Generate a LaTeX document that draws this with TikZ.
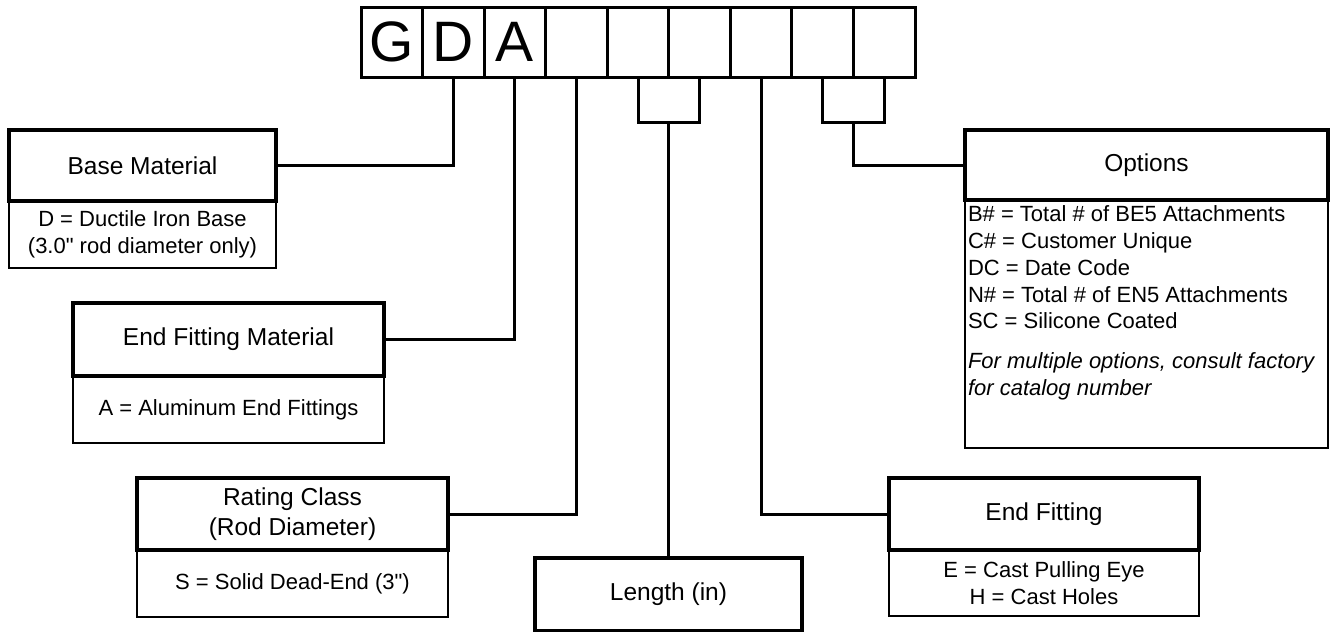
\documentclass[tikz,border=0pt]{standalone}
\usepackage{fontspec}
\setmainfont{Liberation Sans}[Ligatures=TeXOff]
\usetikzlibrary{positioning}

\begin{document}
\begin{tikzpicture}[
  x=1pt, y=-1pt,
  node distance=0pt,
  cell/.style={rectangle, draw, line width=3pt, outer sep=0pt, inner sep=0pt,
              minimum width=61.56pt, minimum height=70pt,
              font=\fontsize{57}{57}\selectfont},
  headbox/.style={rectangle, draw, line width=4pt, outer sep=0pt, inner sep=0pt,
              align=center, font=\fontsize{24.5}{30}\selectfont},
  bodybox/.style={rectangle, draw, line width=2pt, outer sep=0pt, inner sep=0pt,
              align=center, font=\fontsize{22}{26.7}\selectfont},
  link/.style={line width=3pt}
]
\useasboundingbox (0,0) rectangle (1331,632);

\node[cell, anchor=north west] (c1) at (361,7) {G};
\node[cell, right=of c1] (c2) {D};
\node[cell, right=of c2] (c3) {A};
\foreach \i [count=\j from 3] in {4,...,9}
  \node[cell, right=of c\j] (c\i) {};

\node[headbox, anchor=north west, minimum width=267pt, minimum height=71pt] (base) at (9,130) {Base Material};
\node[bodybox, below=of base, minimum width=267pt, minimum height=67pt] (basebody) {D = Ductile Iron Base\\(3.0" rod diameter only)};

\node[headbox, anchor=north west, minimum width=311pt, minimum height=73pt] (efm) at (73,303) {End Fitting Material};
\node[bodybox, below=of efm, minimum width=311pt, minimum height=67pt] (efmbody) {A = Aluminum End Fittings};

\node[headbox, anchor=north west, minimum width=311pt, minimum height=72pt] (rating) at (137,478) {Rating Class\\(Rod Diameter)};
\node[bodybox, below=of rating, minimum width=311pt, minimum height=67pt] (ratingbody) {S = Solid Dead-End (3")};

\node[headbox, anchor=north west, minimum width=267pt, minimum height=73pt] (length) at (535,558) {Length (in)};

\node[headbox, anchor=north west, minimum width=310pt, minimum height=72pt] (endfit) at (889,478) {End Fitting};
\node[bodybox, below=of endfit, minimum width=310pt, minimum height=66pt] (endfitbody) {E = Cast Pulling Eye\\H = Cast Holes};

\node[headbox, anchor=north west, minimum width=363pt, minimum height=70pt] (options) at (965,130) {Options};
\node[bodybox, below=of options, minimum width=363pt, minimum height=248pt, align=left] (optbody) {%
  \parbox[c][236pt][t]{357pt}{%
    B\# = Total \# of BE5 Attachments\\
    C\# = Customer Unique\\
    DC = Date Code\\
    N\# = Total \# of EN5 Attachments\\
    SC = Silicone Coated\\[13.3pt]
    \itshape For multiple options, consult factory\\
    for catalog number}};

\coordinate (lenfork) at (c5.east |- 0,122);
\coordinate (optfork) at (c8.east |- 0,122);

\draw[link] (c2.south) |- (base.east);
\draw[link] (c3.south) |- (efm.east);
\draw[link] (c4.south) |- (rating.east);
\draw[link] (c5.south) |- (lenfork) -| (c6.south);
\draw[link] (lenfork) -- (lenfork |- length.north);
\draw[link] (c7.south) |- (endfit.west);
\draw[link] (c8.south) |- (optfork) -| (c9.south);
\draw[link] (optfork) |- (options.west);

\end{tikzpicture}
\end{document}
